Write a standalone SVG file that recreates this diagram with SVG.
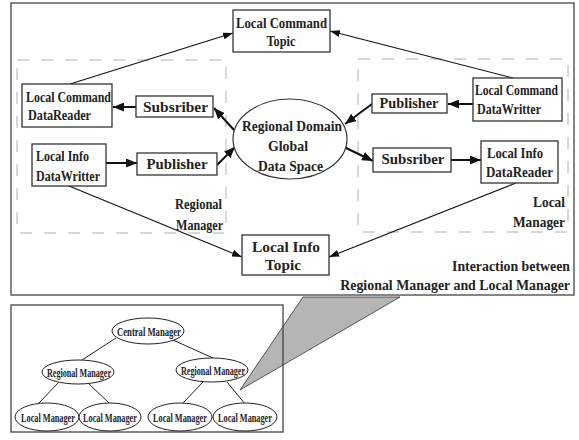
<svg xmlns="http://www.w3.org/2000/svg" width="579" height="440" viewBox="0 0 579 440">
<style>
.frame{fill:none;stroke:#444;stroke-width:1.3}
.box{fill:#fff;stroke:#333;stroke-width:1.3}
.dash{fill:none;stroke:#b0b0b0;stroke-width:1;stroke-dasharray:12 12}
.t{font-family:"Liberation Serif","Times New Roman",serif;font-weight:bold;font-size:15px;fill:#222}
.s{font-family:"Liberation Serif","Times New Roman",serif;font-weight:bold;font-size:13px;fill:#222}
.thick{stroke:#111;stroke-width:2;fill:none}
.thin{stroke:#111;stroke-width:1.1;fill:none}
.tree{stroke:#222;stroke-width:1;fill:none}
</style>
<defs>
<marker id="ah" markerUnits="userSpaceOnUse" markerWidth="12" markerHeight="9" refX="11" refY="4.5" orient="auto">
<path d="M0,0 L11,4.5 L0,9 z" fill="#111"/>
</marker>
<marker id="ahs" markerUnits="userSpaceOnUse" markerWidth="11" markerHeight="7" refX="10" refY="3.5" orient="auto">
<path d="M0,0 L10,3.5 L0,7 z" fill="#111"/>
</marker>
</defs>

<rect class="frame" x="11" y="3" width="563" height="292"/>
<rect class="dash" x="17" y="60" width="209" height="173"/>
<rect class="dash" x="358" y="59" width="210" height="173"/>

<g id="connectors">
<line class="thin" x1="70" y1="84" x2="233" y2="33" marker-end="url(#ahs)"/>
<line class="thin" x1="513" y1="78" x2="330" y2="31" marker-end="url(#ahs)"/>
<line class="thin" x1="69" y1="186" x2="242" y2="257" marker-end="url(#ahs)"/>
<line class="thin" x1="516" y1="183" x2="329" y2="257" marker-end="url(#ahs)"/>
<line class="thick" x1="136" y1="107" x2="113" y2="107" marker-end="url(#ah)"/>
<line class="thick" x1="234" y1="130" x2="214" y2="108" marker-end="url(#ah)"/>
<line class="thick" x1="106" y1="163" x2="137" y2="163" marker-end="url(#ah)"/>
<line class="thick" x1="217" y1="165" x2="235" y2="147" marker-end="url(#ah)"/>
<line class="thick" x1="473" y1="104" x2="448" y2="104" marker-end="url(#ah)"/>
<line class="thick" x1="372" y1="104" x2="345" y2="124" marker-end="url(#ah)"/>
<line class="thick" x1="344" y1="147" x2="373" y2="161" marker-end="url(#ah)"/>
<line class="thick" x1="451" y1="160" x2="481" y2="160" marker-end="url(#ah)"/>
</g>

<g id="local-command-topic">
<rect class="box" x="233" y="10" width="97" height="42"/>
<text class="t" x="281.5" y="28" text-anchor="middle" textLength="91" lengthAdjust="spacingAndGlyphs">Local Command</text>
<text class="t" x="281" y="46" text-anchor="middle" textLength="29" lengthAdjust="spacingAndGlyphs">Topic</text>
</g>

<g id="local-command-datareader">
<rect class="box" x="22" y="84" width="90" height="43"/>
<text class="t" x="26" y="102" textLength="85" lengthAdjust="spacingAndGlyphs">Local Command</text>
<text class="t" x="28" y="120" textLength="63" lengthAdjust="spacingAndGlyphs">DataReader</text>
</g>

<g id="subsriber-left">
<rect class="box" x="136" y="96" width="77" height="21"/>
<text class="t" x="175.5" y="111.5" text-anchor="middle" textLength="65" lengthAdjust="spacingAndGlyphs">Subsriber</text>
</g>

<g id="local-info-datawritter">
<rect class="box" x="32" y="144" width="74" height="42"/>
<text class="t" x="36" y="161" textLength="53" lengthAdjust="spacingAndGlyphs">Local Info</text>
<text class="t" x="36" y="180.5" textLength="64" lengthAdjust="spacingAndGlyphs">DataWritter</text>
</g>

<g id="publisher-left">
<rect class="box" x="137" y="153" width="80" height="22"/>
<text class="t" x="177" y="168.5" text-anchor="middle" textLength="61" lengthAdjust="spacingAndGlyphs">Publisher</text>
</g>

<g id="regional-manager-label">
<text class="t" x="222" y="209" text-anchor="end" textLength="47" lengthAdjust="spacingAndGlyphs">Regional</text>
<text class="t" x="223" y="230" text-anchor="end" textLength="47" lengthAdjust="spacingAndGlyphs">Manager</text>
</g>

<g id="global-data-space">
<ellipse cx="290" cy="139" rx="57" ry="40" fill="#fff" stroke="#333" stroke-width="1.2"/>
<text class="t" x="292" y="131" text-anchor="middle" textLength="100" lengthAdjust="spacingAndGlyphs">Regional Domain</text>
<text class="t" x="288" y="151" text-anchor="middle" textLength="40" lengthAdjust="spacingAndGlyphs">Global</text>
<text class="t" x="290.5" y="171" text-anchor="middle" textLength="65" lengthAdjust="spacingAndGlyphs">Data Space</text>
</g>

<g id="publisher-right">
<rect class="box" x="372" y="94" width="75" height="19"/>
<text class="t" x="409" y="108" text-anchor="middle" textLength="59" lengthAdjust="spacingAndGlyphs">Publisher</text>
</g>

<g id="local-command-datawritter">
<rect class="box" x="473" y="78" width="89" height="43"/>
<text class="t" transform="translate(475,95) scale(0.776,1)">Local Command</text>
<text class="t" x="477" y="114" textLength="64" lengthAdjust="spacingAndGlyphs">DataWritter</text>
</g>

<g id="subsriber-right">
<rect class="box" x="373" y="148" width="78" height="24"/>
<text class="t" x="413" y="164" text-anchor="middle" textLength="63" lengthAdjust="spacingAndGlyphs">Subsriber</text>
</g>

<g id="local-info-datareader">
<rect class="box" x="481" y="141" width="77" height="42"/>
<text class="t" x="487" y="158" textLength="56" lengthAdjust="spacingAndGlyphs">Local Info</text>
<text class="t" x="486" y="177" textLength="67" lengthAdjust="spacingAndGlyphs">DataReader</text>
</g>

<g id="local-manager-label">
<text class="t" x="565" y="207" text-anchor="end" textLength="32" lengthAdjust="spacingAndGlyphs">Local</text>
<text class="t" x="565" y="227" text-anchor="end" textLength="52" lengthAdjust="spacingAndGlyphs">Manager</text>
</g>

<g id="local-info-topic">
<rect class="box" x="242" y="235" width="87" height="40"/>
<text class="t" x="286" y="252" text-anchor="middle" textLength="68" lengthAdjust="spacingAndGlyphs">Local Info</text>
<text class="t" x="283" y="270" text-anchor="middle" textLength="36" lengthAdjust="spacingAndGlyphs">Topic</text>
</g>

<g id="caption">
<text class="t" x="570" y="271" text-anchor="end" textLength="118" lengthAdjust="spacingAndGlyphs">Interaction between</text>
<text class="t" transform="translate(570,290) scale(0.927,1)" text-anchor="end">Regional Manager and Local Manager</text>
</g>

<polygon id="zoom-callout" points="240,390 303,297 400,297" fill="#b5b5b5" stroke="#333" stroke-width="0.8"/>

<rect class="frame" x="11" y="305" width="272" height="127"/>

<g id="tree-connectors">
<line class="tree" x1="116" y1="338" x2="82" y2="360"/>
<line class="tree" x1="173" y1="340" x2="213" y2="358"/>
<line class="tree" x1="58" y1="383" x2="38" y2="404"/>
<line class="tree" x1="88" y1="383" x2="110" y2="404"/>
<line class="tree" x1="203" y1="382" x2="182" y2="404"/>
<line class="tree" x1="227" y1="382" x2="245" y2="404"/>
</g>

<g id="central-manager">
<ellipse cx="148" cy="331" rx="36" ry="13" fill="#fff" stroke="#222" stroke-width="1"/>
<text class="s" transform="translate(149,336) scale(0.664,1)" text-anchor="middle">Central Manager</text>
</g>
<g id="regional-manager-1">
<ellipse cx="78" cy="372" rx="36" ry="12" fill="#fff" stroke="#222" stroke-width="1"/>
<text class="s" transform="translate(79,376.5) scale(0.622,1)" text-anchor="middle">Regional Manager</text>
</g>
<g id="regional-manager-2">
<ellipse cx="212" cy="370" rx="36" ry="12" fill="#fff" stroke="#222" stroke-width="1"/>
<text class="s" transform="translate(213,374.5) scale(0.622,1)" text-anchor="middle">Regional Manager</text>
</g>
<g id="local-manager-1">
<ellipse cx="47" cy="417" rx="32" ry="14" fill="#fff" stroke="#222" stroke-width="1"/>
<text class="s" transform="translate(48,421.5) scale(0.636,1)" text-anchor="middle">Local Manager</text>
</g>
<g id="local-manager-2">
<ellipse cx="110" cy="417" rx="31" ry="14" fill="#fff" stroke="#222" stroke-width="1"/>
<text class="s" transform="translate(110,421.5) scale(0.636,1)" text-anchor="middle">Local Manager</text>
</g>
<g id="local-manager-3">
<ellipse cx="180" cy="417" rx="32" ry="14" fill="#fff" stroke="#222" stroke-width="1"/>
<text class="s" transform="translate(180,421.5) scale(0.636,1)" text-anchor="middle">Local Manager</text>
</g>
<g id="local-manager-4">
<ellipse cx="245" cy="417" rx="32" ry="14" fill="#fff" stroke="#222" stroke-width="1"/>
<text class="s" transform="translate(245,421.5) scale(0.636,1)" text-anchor="middle">Local Manager</text>
</g>
</svg>
